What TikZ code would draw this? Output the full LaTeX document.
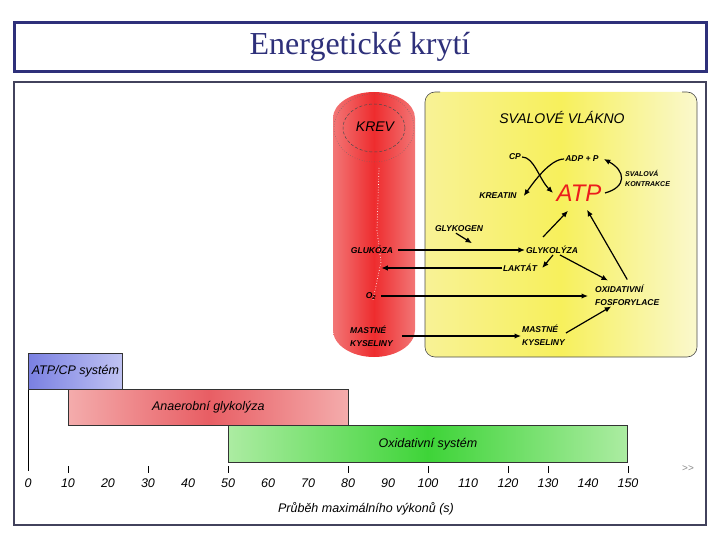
\documentclass[tikz,border=0pt]{standalone}
\usepackage{fontspec}
\setmainfont{Liberation Serif}
\setsansfont{Liberation Sans}
\usetikzlibrary{arrows.meta,positioning}

\definecolor{navy}{RGB}{46,48,122}
\definecolor{framegray}{RGB}{66,66,92}
\definecolor{redmid}{RGB}{238,44,46}
\definecolor{redpale}{RGB}{242,118,118}
\definecolor{yelleft}{RGB}{248,242,150}
\definecolor{yelmid}{RGB}{247,240,92}
\definecolor{yelpale}{RGB}{250,248,205}
\definecolor{atpred}{RGB}{236,28,28}
\definecolor{bluemid}{RGB}{122,128,226}
\definecolor{bluepale}{RGB}{192,195,242}
\definecolor{pinkmid}{RGB}{232,94,100}
\definecolor{pinkpale}{RGB}{244,172,172}
\definecolor{greenmid}{RGB}{62,212,56}
\definecolor{greenpale}{RGB}{172,236,162}

\tikzset{
  lbl/.style={font=\sffamily\itshape\bfseries\fontsize{8.5}{13}\selectfont, inner sep=1pt},
  tiny/.style={font=\sffamily\itshape\bfseries\fontsize{7}{10}\selectfont, inner sep=1pt, align=left},
  head/.style={font=\sffamily\itshape\fontsize{14}{16}\selectfont},
  flow/.style={-{Latex[length=6.5pt,width=5.5pt]}, line width=1.2pt},
  bar/.style={draw=black!80, line width=0.8pt, anchor=north west, inner sep=0pt,
    font=\sffamily\itshape\fontsize{12.5}{14}\selectfont},
  barlbl/.style={font=\sffamily\itshape\fontsize{12.5}{14}\selectfont},
  tick/.style={line width=0.8pt},
}

\begin{document}
\begin{tikzpicture}[x=1pt,y=-1pt]
  \useasboundingbox (0,0) rectangle (720,540);

  % title and frame
  \draw[navy, line width=3pt] (14,23) rectangle (706,72);
  \node[font=\fontsize{32}{36}\selectfont, text=navy] (title) at (360,47) {Energetické krytí};
  \draw[framegray, line width=1.2pt] (14,82) rectangle (706,525);

  % blood vessel
  \shade[left color=redpale, right color=redpale, middle color=redmid]
    (333,118) arc[start angle=180, end angle=360, x radius=41, y radius=26]
    -- (415,330) arc[start angle=0, end angle=180, x radius=41, y radius=27] -- cycle;
  \draw[black!70, dash pattern=on 3pt off 2pt, line width=0.5pt] (374,128) ellipse [x radius=31, y radius=24];
  \draw[black!60, dotted, line width=0.5pt] (374,128) ellipse [x radius=40, y radius=34];
  \draw[white, dotted, line width=0.7pt] (379,168) -- (377,230) -- (381,262) -- (373,300);

  % muscle fibre
  \shade[left color=yelleft, right color=yelpale, middle color=yelmid, rounded corners=10pt]
    (425,92) rectangle (697,357);
  \draw[black!70, line width=0.6pt, rounded corners=10pt]
    (440,92) -- (425,92) -- (425,357) -- (697,357) -- (697,92) -- (682,92);

  % labels
  \node[head] (krev) at (375,127) {KREV};
  \node[head] (vlakno) at (562,117) {SVALOVÉ VLÁKNO};
  \node[lbl] (cp) at (515,157) {CP};
  \node[lbl] (adp) at (582,159) {ADP + P};
  \node[tiny, anchor=west] (kontr) at (624,178) {SVALOVÁ\\KONTRAKCE};
  \node[lbl] (kreatin) at (498,196) {KREATIN};
  \node[font=\sffamily\itshape\fontsize{24}{26}\selectfont, text=atpred] (atp) at (579,193) {ATP};
  \node[lbl] (glykogen) at (459,229) {GLYKOGEN};
  \node[lbl] (glukoza) at (372,250) {GLUKÓZA};
  \node[lbl] (glykolyza) at (552,250) {GLYKOLÝZA};
  \node[lbl] (laktat) at (520,268) {LAKTÁT};
  \node[lbl] (o2) at (371,296) {O\textsubscript{2}};
  \node[lbl, align=left, anchor=west] (oxfos) at (594,295) {OXIDATIVNÍ\\FOSFORYLACE};
  \node[lbl, align=left, anchor=west] (mastkrev) at (349,336) {MASTNÉ\\KYSELINY};
  \node[lbl, align=left, anchor=west] (mastsval) at (521,335) {MASTNÉ\\KYSELINY};

  % ATP cycle
  \draw[flow] (cp.east) .. controls +(12,0) and +(-14,-14) .. (atp.west);
  \draw[flow] (adp.west) .. controls +(-14,0) and +(10,-14) .. ([xshift=6pt]kreatin.east);
  \draw[flow] (atp.east) .. controls +(22,-6) and +(22,12) .. ([xshift=4pt]adp.east);

  % metabolism
  \draw[flow] ([xshift=-3pt]glykogen.south) -- ++(16,10);
  \draw[flow] ([xshift=4pt]glukoza.east) -- (glukoza.east -| glykolyza.west);
  \draw[flow] (laktat.west) -- ([xshift=4pt]laktat.west -| o2.east);
  \draw[flow] ([xshift=1pt]glykolyza.south) -- ([xshift=4pt]laktat.east);
  \draw[flow] ([xshift=8pt]glykolyza.south) -- ([xshift=14pt,yshift=3pt]oxfos.north west);
  \draw[flow] ([xshift=4pt]o2.east) -- ([xshift=-6pt]o2.east -| oxfos.west);
  \draw[flow] ([xshift=8pt]mastkrev.east) -- (mastkrev.east -| mastsval.west);
  \draw[flow] ([yshift=2pt]mastsval.east) -- ([xshift=-16pt]oxfos.south);
  \draw[flow] ([xshift=-9pt,yshift=8pt]glykolyza.north) -- ([xshift=-11pt,yshift=-6pt]atp.south);
  \draw[flow] ([yshift=4pt]oxfos.north) -- ([xshift=8pt,yshift=-5pt]atp.south);

  % energy systems
  \node[bar, left color=bluemid, right color=bluepale, minimum width=94pt, minimum height=36pt]
    (atpcp) at (28,353) {ATP/CP systém};
  \node[bar, left color=pinkpale, right color=pinkpale, middle color=pinkmid, minimum width=280pt, minimum height=36pt]
    (anaer) at (68,389) {Anaerobní glykolýza};
  \node[bar, left color=greenpale, right color=greenpale, middle color=greenmid, minimum width=399pt, minimum height=37pt]
    (oxid) at (228,425) {Oxidativní systém};

  % time axis
  \draw[tick] (atpcp.south west) -- ++(0,81);
  \foreach \t in {10,30,50,80,100,120,130,150}
    \draw[tick] ({28+4*\t},466) -- ({28+4*\t},473);
  \foreach \t in {0,10,...,150}
    \node[barlbl] (t\t) at ({28+4*\t},483) {\t};
  \node[barlbl] (axis) at (366,509) {Průběh maximálního výkonů (s)};
  \node[font=\sffamily\fontsize{10}{12}\selectfont, text=black!45] (more) at (688,469) {>{}>};
\end{tikzpicture}
\end{document}
